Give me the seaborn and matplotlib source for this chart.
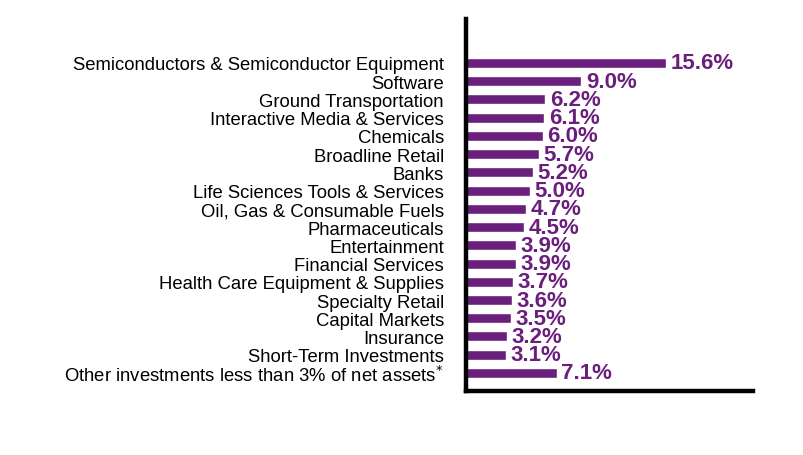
import matplotlib
matplotlib.use("Agg")
import matplotlib.pyplot as plt
import seaborn as sns
import pandas as pd

industries = [
    "Semiconductors & Semiconductor Equipment",
    "Software",
    "Ground Transportation",
    "Interactive Media & Services",
    "Chemicals",
    "Broadline Retail",
    "Banks",
    "Life Sciences Tools & Services",
    "Oil, Gas & Consumable Fuels",
    "Pharmaceuticals",
    "Entertainment",
    "Financial Services",
    "Health Care Equipment & Supplies",
    "Specialty Retail",
    "Capital Markets",
    "Insurance",
    "Short-Term Investments",
    "Other investments less than 3% of net assets$^{*}$",
]
weights = [15.6, 9.0, 6.2, 6.1, 6.0, 5.7, 5.2, 5.0, 4.7, 4.5,
           3.9, 3.9, 3.7, 3.6, 3.5, 3.2, 3.1, 7.1]

PURPLE = "#6b1f7c"


def main():
    sns.set_theme(style="white")
    plt.rcParams["font.family"] = ["Liberation Sans", "DejaVu Sans"]

    df = pd.DataFrame({"industry": industries, "weight": weights})

    fig = plt.figure(figsize=(8.04, 4.56), dpi=100)
    ax = fig.add_axes([466 / 804, 1 - 392 / 456, 287 / 804, 372 / 456])

    sns.barplot(data=df, x="weight", y="industry", color=PURPLE,
                saturation=1, width=0.55, ax=ax)

    for i, v in enumerate(weights):
        ax.text(v + 0.35, i, "{:.1f}%".format(v), va="center", ha="left",
                color=PURPLE, fontsize=16, fontweight="bold")

    ax.set_xlim(0, 22.4)
    ax.set_ylim(len(weights) - 0.01, -2.41)
    ax.set_xlabel("")
    ax.set_ylabel("")
    ax.set_xticks([])
    ax.tick_params(axis="y", length=0, pad=16, labelsize=13.3, labelcolor="black")

    sns.despine(ax=ax, top=True, right=True)
    for side in ("left", "bottom"):
        ax.spines[side].set_color("black")
        ax.spines[side].set_linewidth(3.2)

    fig.savefig("out.png", dpi=100)
    plt.close(fig)


if __name__ == "__main__":
    main()
